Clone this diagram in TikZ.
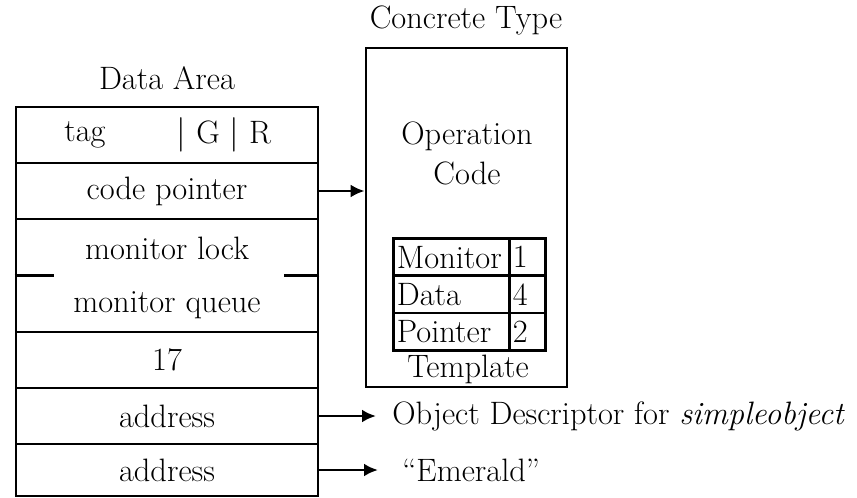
\documentclass[tikz,border=0pt]{standalone}
\usetikzlibrary{arrows.meta}
\begin{document}
\begin{tikzpicture}[x=0.5pt,y=-0.5pt,
  every node/.style={font=\fontsize{16.2}{19}\selectfont},
  row/.style={draw,line width=1.4pt,minimum width=151pt,minimum height=28pt,inner sep=0pt},
  lbl/.style={inner sep=0pt},
  ptr/.style={line width=1.4pt,-{Latex[length=7pt,width=6.5pt]}},
  cellA/.style={draw,line width=1.4pt,minimum height=18.67pt,text width=54.5pt,align=left,inner xsep=1.75pt,inner ysep=0pt,anchor=north west},
  cellB/.style={draw,line width=1.4pt,minimum height=18.67pt,text width=14.5pt,align=left,inner xsep=1.75pt,inner ysep=0pt,anchor=north west},
]
\useasboundingbox (0,0) rectangle (857,498);

% Data Area
\node[lbl] (datitle) at (167,78) {Data Area};
\node[row] (tag) at (167,135) {};
\node[lbl] (tagtxt) at (85,135) {tag};
\node[lbl] (gr) at (224,135) {$|$ G $|$ R};
\node[row] (code) at (167,191) {code pointer};
\node[row,minimum height=56.5pt] (mon) at (167,275.5) {};
\node[lbl] (mlock) at (167,248) {monitor lock};
\node[lbl] (mqueue) at (167,305) {monitor queue};
\draw[line width=1.4pt] (mon.west) -- ++(39,0);
\draw[line width=1.4pt] (mon.east) -- ++(-35,0);
\node[row] (seventeen) at (167,360) {17};
\node[row] (a1) at (167,416) {address};
\node[row,minimum height=26pt] (a2) at (167,470) {address};

% Concrete Type
\node[lbl] (cttitle) at (466,20) {Concrete Type};
\node[draw,line width=1.4pt,minimum width=100.5pt,minimum height=169.5pt,inner sep=0pt] (ct) at (466.5,217.5) {};
\node[lbl,align=center] (op) at (467,153) {Operation\\[1pt]Code};
\node[cellA] (m1) at (392,237) {Monitor};
\node[cellB] (m2) at (508,237) {1};
\node[cellA] (d1) at (392,274.33) {Data};
\node[cellB] (d2) at (508,274.33) {4};
\node[cellA] (p1) at (392,311.67) {Pointer};
\node[cellB] (p2) at (508,311.67) {2};
\node[lbl] (tmpl) at (468,369) {Template};

% pointers
\draw[ptr] (code.east) -- (code.east -| ct.west);
\node[lbl,anchor=west] (od) at (392,416) {Object Descriptor for \textit{simpleobject}};
\coordinate (t1) at (376,416);
\draw[ptr] (a1.east) -- (t1);
\node[lbl,anchor=west] (em) at (402,470) {``Emerald''};
\coordinate (t2) at (378,470);
\draw[ptr] (a2.east) -- (t2);
\end{tikzpicture}
\end{document}
